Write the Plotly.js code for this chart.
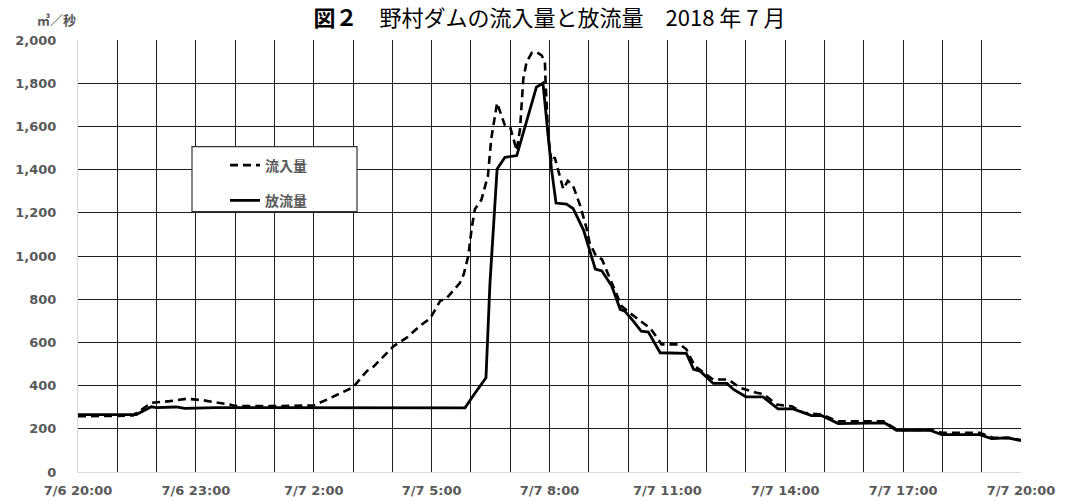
<!DOCTYPE html>
<html>
<head>
<meta charset="utf-8">
<script src="https://cdn.plot.ly/plotly-3.0.1.min.js"></script>
<style>html,body{margin:0;padding:0;background:#fff;}#chart{width:1077px;height:501px;}</style>
</head>
<body>
<div id="chart"></div>
<script>
// 流入量 (inflow), m3/s
const inflowTime = [
  "2018-07-06 20:00","2018-07-06 20:30","2018-07-06 21:00","2018-07-06 21:24","2018-07-06 21:52",
  "2018-07-06 22:20","2018-07-06 22:46","2018-07-06 23:11","2018-07-06 23:31","2018-07-06 23:52",
  "2018-07-07 00:00","2018-07-07 01:00","2018-07-07 02:00","2018-07-07 02:10","2018-07-07 02:20",
  "2018-07-07 03:00","2018-07-07 03:21","2018-07-07 03:31","2018-07-07 04:02","2018-07-07 04:22",
  "2018-07-07 04:42","2018-07-07 04:58","2018-07-07 05:13","2018-07-07 05:23","2018-07-07 05:43",
  "2018-07-07 05:49","2018-07-07 05:56","2018-07-07 06:01","2018-07-07 06:06","2018-07-07 06:16",
  "2018-07-07 06:26","2018-07-07 06:31","2018-07-07 06:37","2018-07-07 06:40","2018-07-07 06:44",
  "2018-07-07 06:52","2018-07-07 07:00","2018-07-07 07:05","2018-07-07 07:10","2018-07-07 07:15",
  "2018-07-07 07:20","2018-07-07 07:25","2018-07-07 07:33","2018-07-07 07:40","2018-07-07 07:48",
  "2018-07-07 07:53","2018-07-07 07:54","2018-07-07 07:58","2018-07-07 08:03","2018-07-07 08:08",
  "2018-07-07 08:16","2018-07-07 08:21","2018-07-07 08:28","2018-07-07 08:36","2018-07-07 08:47",
  "2018-07-07 08:57","2018-07-07 09:01","2018-07-07 09:11","2018-07-07 09:20","2018-07-07 09:43",
  "2018-07-07 09:50","2018-07-07 10:02","2018-07-07 10:34","2018-07-07 10:46","2018-07-07 10:51",
  "2018-07-07 11:19","2018-07-07 11:29","2018-07-07 11:42","2018-07-07 12:10","2018-07-07 12:33",
  "2018-07-07 12:51","2018-07-07 13:16","2018-07-07 13:27","2018-07-07 13:47","2018-07-07 14:10",
  "2018-07-07 14:28","2018-07-07 14:56","2018-07-07 15:19","2018-07-07 16:30","2018-07-07 16:51",
  "2018-07-07 17:42","2018-07-07 18:01","2018-07-07 18:57","2018-07-07 19:18","2018-07-07 19:42",
  "2018-07-07 20:00"
];
const inflowValue = [
  258,258,260,262,320,
  328,339,332,323,312,
  306,305,308,320,335,
  392,467,487,583,622,
  676,712,792,805,875,
  915,1000,1124,1217,1260,
  1372,1542,1650,1709,1673,
  1604,1596,1542,1488,1588,
  1820,1898,1941,1944,1929,
  1898,1805,1557,1434,1457,
  1372,1310,1348,1325,1232,
  1124,1063,1000,985,815,
  768,738,665,614,591,
  591,568,490,428,428,
  390,367,360,312,304,
  274,266,235,235,195,
  195,181,181,158,158,
  148
];

// 放流量 (outflow), m3/s
const outflowTime = [
  "2018-07-06 20:00","2018-07-06 21:29","2018-07-06 21:52","2018-07-06 22:00","2018-07-06 22:30",
  "2018-07-06 22:43","2018-07-06 23:30","2018-07-07 00:30","2018-07-07 01:30","2018-07-07 02:30",
  "2018-07-07 03:00","2018-07-07 04:00","2018-07-07 05:00","2018-07-07 05:51","2018-07-07 06:05",
  "2018-07-07 06:14","2018-07-07 06:23","2018-07-07 06:29","2018-07-07 06:35","2018-07-07 06:40",
  "2018-07-07 06:52","2018-07-07 07:10","2018-07-07 07:40","2018-07-07 07:50","2018-07-07 08:03",
  "2018-07-07 08:10","2018-07-07 08:26","2018-07-07 08:36","2018-07-07 08:52","2018-07-07 09:04",
  "2018-07-07 09:10","2018-07-07 09:20","2018-07-07 09:35","2018-07-07 09:48","2018-07-07 09:55",
  "2018-07-07 10:08","2018-07-07 10:20","2018-07-07 10:31","2018-07-07 10:49","2018-07-07 11:29",
  "2018-07-07 11:40","2018-07-07 11:50","2018-07-07 12:10","2018-07-07 12:31","2018-07-07 12:41",
  "2018-07-07 13:00","2018-07-07 13:26","2018-07-07 13:49","2018-07-07 14:12","2018-07-07 14:40",
  "2018-07-07 14:56","2018-07-07 15:21","2018-07-07 16:32","2018-07-07 16:50","2018-07-07 17:41",
  "2018-07-07 17:59","2018-07-07 18:57","2018-07-07 19:15","2018-07-07 19:40","2018-07-07 20:00"
];
const outflowValue = [
  266,266,302,298,301,
  295,298,298,296,298,
  296,298,297,297,360,
  400,436,870,1186,1403,
  1457,1465,1782,1800,1403,
  1245,1240,1220,1120,1000,
  939,931,861,753,745,
  699,652,648,552,549,
  475,467,410,410,382,
  348,348,292,292,261,
  261,224,227,193,193,
  173,173,155,158,145
];

const seriesNames = ["流入量", "放流量"];
const yTicks = [0,200,400,600,800,1000,1200,1400,1600,1800,2000];
const xRange = ["2018-07-06 20:00", "2018-07-07 20:00"];

const grey = "#595959";
const gridCol = "#1f1f1f";
const latin = "DejaVu Sans, Noto Sans CJK JP, sans-serif";
const cjk = "Noto Sans CJK JP, DejaVu Sans, sans-serif";

const traces = [
  {x: inflowTime, y: inflowValue, name: seriesNames[0], type: "scatter", mode: "lines",
   legendgroup: "a", line: {color: "#000", width: 2.6, dash: "8px,5px"}},
  {x: outflowTime, y: outflowValue, name: seriesNames[1], type: "scatter", mode: "lines",
   legendgroup: "b", line: {color: "#000", width: 2.8}}
];

const layout = {
  width: 1077, height: 501,
  margin: {l: 78, r: 56, t: 40, b: 29},
  paper_bgcolor: "#fff", plot_bgcolor: "#fff",
  font: {family: latin, color: grey, size: 13},
  title: {
    text: "<b>図２</b>\u3000野村ダムの流入量と放流量\u30002018 年 7 月",
    font: {family: cjk, size: 22, color: "#000"},
    x: 0.5, xref: "paper", xanchor: "center",
    y: 1 - 18/501, yref: "container", yanchor: "middle"
  },
  xaxis: {
    type: "date", range: xRange,
    tick0: xRange[0], dtick: 3*3600000,
    tickformat: "%-m/%-d %-H:%M",
    showgrid: true, gridcolor: gridCol, gridwidth: 1,
    minor: {dtick: 3600000, showgrid: true, gridcolor: gridCol, gridwidth: 1, ticks: ""},
    showline: true, linecolor: "#d9d9d9", linewidth: 1,
    ticks: "", ticklabelstandoff: 6,
    tickfont: {family: latin, size: 13, color: grey, weight: "bold"},
    zeroline: false, fixedrange: true
  },
  yaxis: {
    range: [0, 2000], tickvals: yTicks, tickformat: ",d",
    showgrid: true, gridcolor: gridCol, gridwidth: 1,
    showline: true, linecolor: "#d9d9d9", linewidth: 1,
    ticks: "", ticklabelstandoff: 18,
    tickfont: {family: latin, size: 13, color: grey, weight: "bold"},
    zeroline: false, fixedrange: true
  },
  showlegend: true,
  legend: {
    x: (225-78)/943, xanchor: "left",
    y: (472.3-150)/431.8, yanchor: "top",
    bgcolor: "rgba(0,0,0,0)", borderwidth: 0,
    font: {family: cjk, size: 14, color: grey, weight: "bold"},
    tracegroupgap: 14, traceorder: "grouped"
  },
  shapes: [
    {type: "rect", xref: "paper", yref: "paper",
     x0: (192-78)/943, x1: (357-78)/943,
     y0: (472.3-212)/431.8, y1: (472.3-147)/431.8,
     line: {color: "#333", width: 1.2}, fillcolor: "#fff", layer: "above"}
  ],
  annotations: [
    {text: "<b>㎥／秒</b>", xref: "paper", yref: "paper",
     x: (56-78)/943, y: (472.3-20)/431.8, xanchor: "center", yanchor: "middle",
     showarrow: false, font: {family: cjk, size: 13, color: grey}}
  ]
};

Plotly.newPlot("chart", traces, layout, {staticPlot: true, displayModeBar: false});
</script>
</body>
</html>
